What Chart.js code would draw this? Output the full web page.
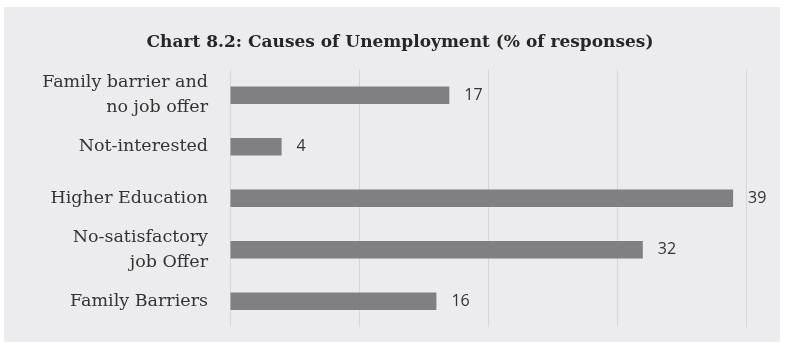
<!DOCTYPE html>
<html>
<head>
<meta charset="utf-8">
<script src="https://cdn.jsdelivr.net/npm/chart.js@4"></script>
<style>
  html, body { margin: 0; padding: 0; background: #ffffff; }
  #panel { position: absolute; left: 4px; top: 7px; width: 776px; height: 335px; background: #ececee; }
</style>
</head>
<body>
<div id="panel"><canvas id="grafica" width="776" height="335"></canvas></div>
<script>
// Datos
const causas = [
    ['Family barrier and', 'no job offer'],
    'Not-interested',
    'Higher Education',
    ['No-satisfactory', 'job Offer'],
    'Family Barriers'
];
const respuestas = [17, 4, 39, 32, 16];
const ejeMax = 40;
const pasoEje = 10;

// Etiquetas de valor al final de cada barra
const etiquetasValor = {
    id: 'etiquetasValor',
    afterDatasetsDraw(chart) {
        const ctx = chart.ctx;
        const meta = chart.getDatasetMeta(0);
        ctx.save();
        ctx.font = '16px "Open Sans"';
        ctx.fillStyle = '#333333';
        ctx.textAlign = 'left';
        ctx.textBaseline = 'middle';
        meta.data.forEach((bar, i) => {
            ctx.fillText(respuestas[i], bar.x + 15, bar.y);
        });
        ctx.restore();
    }
};

const ctx = document.getElementById('grafica').getContext('2d');
new Chart(ctx, {
    type: 'bar',
    data: {
        labels: causas,
        datasets: [{
            data: respuestas,
            backgroundColor: '#808083',
            categoryPercentage: 1,
            barPercentage: 0.34
        }]
    },
    options: {
        indexAxis: 'y',
        responsive: false,
        animation: false,
        layout: { padding: { left: 16, right: 0, bottom: 15 } },
        plugins: {
            legend: { display: false },
            tooltip: { enabled: false },
            title: {
                display: true,
                text: 'Chart 8.2: Causes of Unemployment (% of responses)',
                color: '#262626',
                font: { family: '"DejaVu Serif"', size: 17, weight: 'bold', lineHeight: 1.2 },
                padding: { top: 25, bottom: 17 }
            }
        },
        scales: {
            x: {
                min: 0,
                max: ejeMax,
                afterFit: (scale) => {
                    scale.height = 0;
                    scale.paddingLeft = 0;
                    scale.paddingRight = 34;
                },
                ticks: { display: false, stepSize: pasoEje },
                grid: { color: '#d6d6d9', drawTicks: false },
                border: { display: false }
            },
            y: {
                afterFit: (scale) => {
                    scale.width = 210;
                    scale.paddingTop = 0;
                    scale.paddingBottom = 0;
                },
                ticks: {
                    color: '#333333',
                    padding: 22,
                    autoSkip: false,
                    font: { family: '"DejaVu Serif"', size: 17.5, lineHeight: 1.4 }
                },
                grid: { display: false, drawTicks: false },
                border: { display: false }
            }
        }
    },
    plugins: [etiquetasValor]
});
</script>
</body>
</html>
